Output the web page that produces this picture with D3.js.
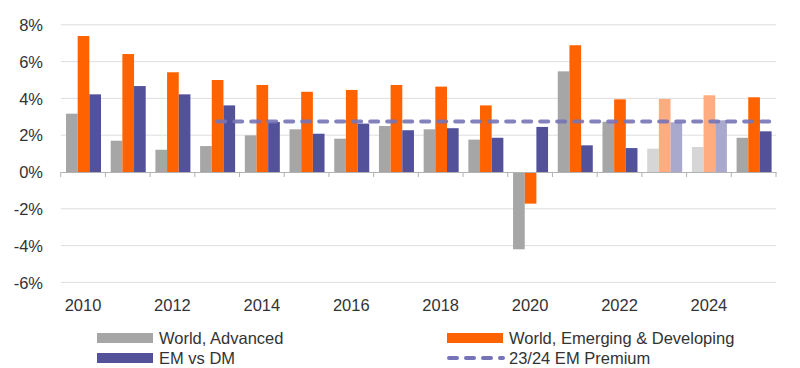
<!DOCTYPE html>
<html>
<head>
<meta charset="utf-8">
<script src="https://cdn.jsdelivr.net/npm/d3@7"></script>
<style>
  body { margin: 0; background: #fff; }
  svg text { font-family: "Liberation Sans", Arial, sans-serif; fill: #333; }
</style>
</head>
<body>
<div id="chart"></div>
<script>
const years = [2010, 2011, 2012, 2013, 2014, 2015, 2016, 2017, 2018, 2019, 2020, 2021, 2022, 2023, 2024, 2025];
const advanced = [3.17, 1.70, 1.21, 1.41, 1.99, 2.32, 1.81, 2.50, 2.32, 1.76, -4.20, 5.47, 2.73, 1.27, 1.36, 1.86];
const emerging = [7.39, 6.41, 5.42, 5.00, 4.73, 4.36, 4.46, 4.73, 4.64, 3.62, -1.72, 6.89, 3.95, 3.97, 4.17, 4.06];
const emVsDm = [4.22, 4.67, 4.22, 3.62, 2.72, 2.08, 2.63, 2.27, 2.38, 1.86, 2.45, 1.45, 1.30, 2.70, 2.81, 2.21];
const premiumValue = 2.75;
const premiumStartYear = 2013;
const forecastYears = [2023, 2024];
const yTicks = [-6, -4, -2, 0, 2, 4, 6, 8];
const xLabelYears = [2010, 2012, 2014, 2016, 2018, 2020, 2022, 2024];

const w = 800, h = 368;
const plot = { left: 60.7, right: 776, top: 24.8, zero: 172 };

const series = [
    { key: 'adv', name: 'World, Advanced', values: advanced, color: '#a6a6a6', light: '#d6d6d6' },
    { key: 'em', name: 'World, Emerging & Developing', values: emerging, color: '#ff6200', light: '#ffad80' },
    { key: 'diff', name: 'EM vs DM', values: emVsDm, color: '#525199', light: '#a9a8cd' }
];

const svg = d3.select('#chart')
    .append('svg')
    .attr('width', w)
    .attr('height', h);

const x0 = d3.scaleBand()
    .domain(years)
    .range([plot.left, plot.right]);

const x1 = d3.scaleBand()
    .domain(series.map(s => s.key))
    .range([5.3, 40.3]);

const y = d3.scaleLinear()
    .domain([0, 8])
    .range([plot.zero, plot.top]);

// gridlines
svg.append('g')
    .selectAll('line')
    .data(yTicks.filter(d => d !== 0))
    .enter()
    .append('line')
    .attr('x1', plot.left)
    .attr('x2', plot.right)
    .attr('y1', d => y(d))
    .attr('y2', d => y(d))
    .attr('stroke', '#dedede')
    .attr('stroke-width', 1);

// y labels
const yAxis = d3.axisLeft(y)
    .tickValues(yTicks)
    .tickFormat(d => d + '%')
    .tickSize(0)
    .tickPadding(0);

svg.append('g')
    .attr('transform', `translate(43, 0)`)
    .call(yAxis)
    .call(g => g.select('.domain').remove())
    .selectAll('text')
    .style('font-size', '16.5px')
    .attr('dy', '0.35em');

// bars
series.forEach(s => {
    svg.append('g')
        .selectAll('rect')
        .data(years.map((yr, i) => ({ year: yr, value: s.values[i] })))
        .enter()
        .append('rect')
        .attr('x', d => x0(d.year) + x1(s.key))
        .attr('width', x1.bandwidth())
        .attr('y', d => y(Math.max(0, d.value)))
        .attr('height', d => Math.abs(y(d.value) - y(0)))
        .attr('fill', d => forecastYears.includes(d.year) ? s.light : s.color);
});

// zero axis with ticks between categories
const xAxis = d3.axisBottom(x0)
    .tickValues([])
    .tickSizeOuter(0);

svg.append('g')
    .attr('transform', `translate(0, ${plot.zero})`)
    .call(xAxis)
    .call(g => g.select('.domain').attr('stroke', '#b3b3b3'));

svg.append('g')
    .selectAll('line')
    .data(years.concat(['end']))
    .enter()
    .append('line')
    .attr('x1', d => d === 'end' ? plot.right : x0(d))
    .attr('x2', d => d === 'end' ? plot.right : x0(d))
    .attr('y1', plot.zero)
    .attr('y2', plot.zero + 5)
    .attr('stroke', '#b3b3b3');

// x labels
svg.append('g')
    .selectAll('text')
    .data(xLabelYears)
    .enter()
    .append('text')
    .attr('x', d => x0(d) + x0.bandwidth() / 2)
    .attr('y', 311)
    .attr('text-anchor', 'middle')
    .style('font-size', '16.5px')
    .text(d => d);

// 23/24 EM premium line
svg.append('line')
    .attr('x1', x0(premiumStartYear) + x0.bandwidth() / 2)
    .attr('x2', plot.right)
    .attr('y1', y(premiumValue))
    .attr('y2', y(premiumValue))
    .attr('stroke', '#7674b6')
    .attr('stroke-opacity', 0.9)
    .attr('stroke-width', 4)
    .attr('stroke-linecap', 'round')
    .attr('stroke-dasharray', '8,9');

// legend
const legendItems = [
    { name: 'World, Advanced', color: '#a6a6a6', type: 'rect', x: 97, y: 338 },
    { name: 'World, Emerging & Developing', color: '#ff6200', type: 'rect', x: 447, y: 338 },
    { name: 'EM vs DM', color: '#525199', type: 'rect', x: 97, y: 358 },
    { name: '23/24 EM Premium', color: '#7674b6', type: 'line', x: 447, y: 358 }
];

const legend = svg.append('g');

legend.selectAll('g')
    .data(legendItems)
    .enter()
    .append('g')
    .each(function (d) {
        const g = d3.select(this);
        if (d.type === 'rect') {
            g.append('rect')
                .attr('x', d.x)
                .attr('y', d.y - 5)
                .attr('width', 56)
                .attr('height', 10)
                .attr('fill', d.color);
        } else {
            g.append('line')
                .attr('x1', d.x + 2)
                .attr('x2', d.x + 56)
                .attr('y1', d.y)
                .attr('y2', d.y)
                .attr('stroke', d.color)
                .attr('stroke-width', 4)
                .attr('stroke-linecap', 'round')
                .attr('stroke-dasharray', '8,9');
        }
        g.append('text')
            .attr('x', d.x + 62)
            .attr('y', d.y + 6)
            .style('font-size', '16.5px')
            .text(d.name);
    });
</script>
</body>
</html>
